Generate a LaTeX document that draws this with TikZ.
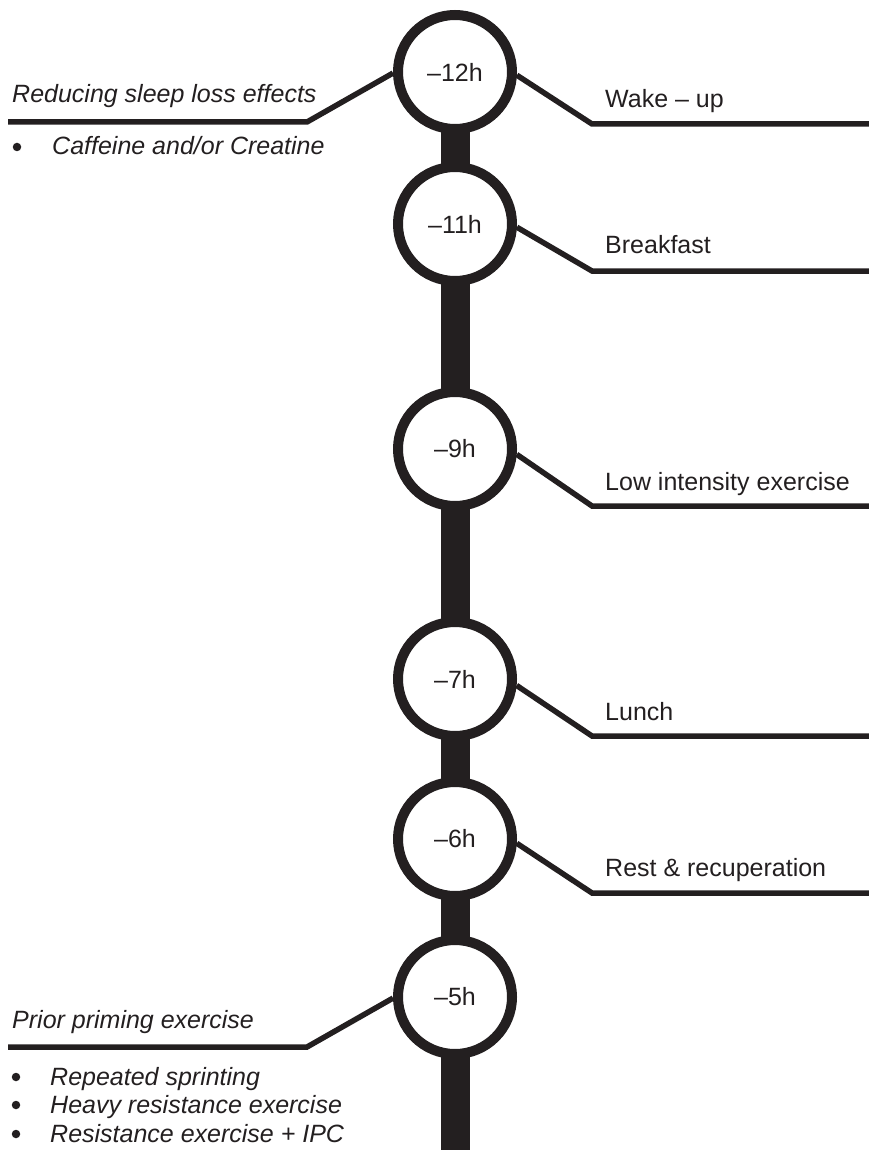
\documentclass[tikz,border=0pt]{standalone}
\usepackage{fontspec}
\setmainfont{Liberation Sans}
\usetikzlibrary{backgrounds}
\definecolor{ink}{RGB}{35,31,32}
\begin{document}
\begin{tikzpicture}[x=1pt,y=-1pt,
  hour/.style={circle, draw=ink, fill=white, line width=10pt, minimum size=114pt, inner sep=0pt, font=\fontsize{25pt}{30pt}\selectfont, text=ink},
  conn/.style={draw=ink, line width=5.5pt, line join=miter, line cap=butt},
  stem/.style={draw=ink, line width=29pt, line cap=butt},
  evt/.style={anchor=base west, inner sep=0pt, font=\fontsize{25pt}{30pt}\selectfont, text=ink},
  grp/.style={anchor=base west, inner sep=0pt, font=\fontsize{25pt}{30pt}\selectfont\itshape, text=ink},
  dotmark/.style={circle, fill=ink, draw=none, minimum size=8.5pt, inner sep=0pt}]
\useasboundingbox (0,0) rectangle (869,1150);

% hour circles
\node[hour] (h12) at (455,72)  {–12h};
\node[hour] (h11) at (455,224) {–11h};
\node[hour] (h9)  at (455,449) {–9h};
\node[hour] (h7)  at (455,679) {–7h};
\node[hour] (h6)  at (455,839) {–6h};
\node[hour] (h5)  at (455,997) {–5h};
\coordinate (bot) at (455,1150);

\begin{pgfonlayer}{background}
\draw[stem] (h12.center) -- (bot);
\end{pgfonlayer}

% right side events
\coordinate (k12) at (592,124); \coordinate (e12) at (869,124);
\coordinate (k11) at (592,271); \coordinate (e11) at (869,271);
\coordinate (k9)  at (592,506); \coordinate (e9)  at (869,506);
\coordinate (k7)  at (592,736); \coordinate (e7)  at (869,736);
\coordinate (k6)  at (592,893); \coordinate (e6)  at (869,893);

\draw[conn] (h12.-3) -- (k12) -- (e12);
\draw[conn] (h11.-3) -- (k11) -- (e11);
\draw[conn] (h9.-5)  -- (k9)  -- (e9);
\draw[conn] (h7.-6)  -- (k7)  -- (e7);
\draw[conn] (h6.-4)  -- (k6)  -- (e6);

\node[evt] (t12) at (605,108) {Wake – up};
\node[evt] (t11) at (605,254) {Breakfast};
\node[evt] (t9)  at (605,490) {Low intensity exercise};
\node[evt] (t7)  at (605,720) {Lunch};
\node[evt] (t6)  at (605,876) {Rest \& recuperation};

% left side groups
\coordinate (lk12) at (307,122); \coordinate (le12) at (8,122);
\coordinate (lk5)  at (307,1047); \coordinate (le5) at (8,1047);

\draw[conn] (h12.181) -- (lk12) -- (le12);
\draw[conn] (h5.181)  -- (lk5)  -- (le5);

\node[grp] (g12) at (12,103) {Reducing sleep loss effects};
\node[dotmark] (b12a) at (17,147) {};
\node[grp] (i12a) at (52,155) {Caffeine and/or Creatine};

\node[grp] (g5) at (12,1028) {Prior priming exercise};
\node[dotmark] (b5a) at (16,1077) {};
\node[grp] (i5a) at (50,1085) {Repeated sprinting};
\node[dotmark] (b5b) at (16,1105) {};
\node[grp] (i5b) at (50,1113) {Heavy resistance exercise};
\node[dotmark] (b5c) at (16,1134) {};
\node[grp] (i5c) at (50,1142) {Resistance exercise + IPC};
\end{tikzpicture}
\end{document}
